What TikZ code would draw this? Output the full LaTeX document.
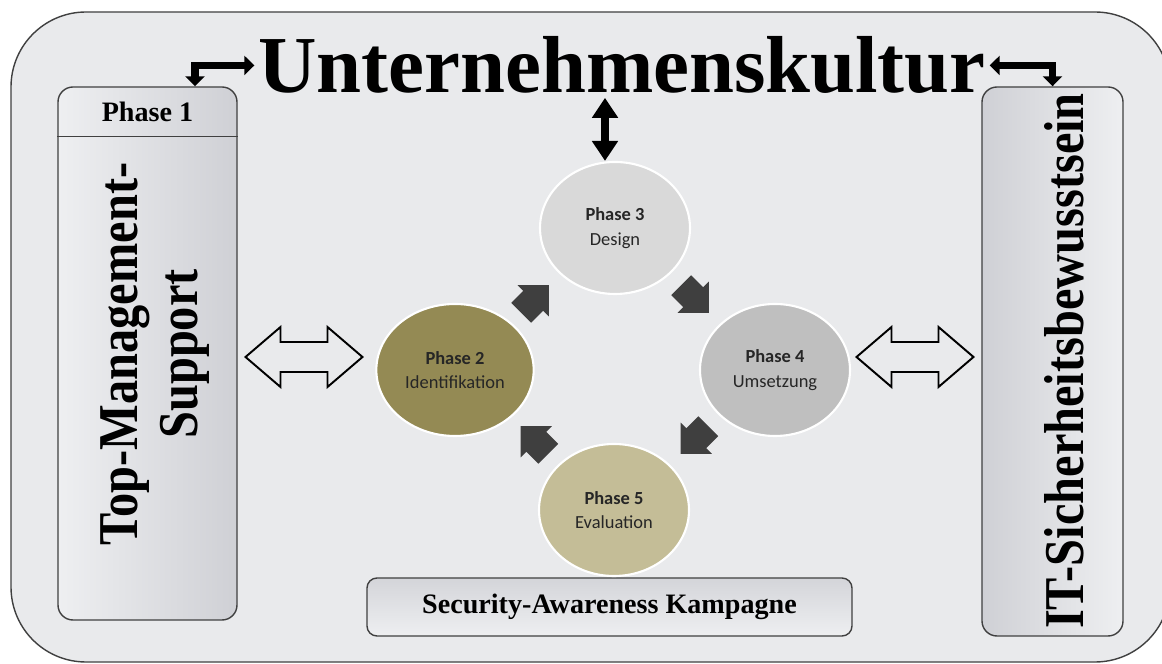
\documentclass[tikz,border=0pt]{standalone}
\usepackage{fontspec}
\setmainfont{Liberation Serif}
\newfontfamily\phasefont{Carlito}
\usetikzlibrary{arrows.meta, positioning, calc, shapes.geometric}
\definecolor{canvas}{HTML}{E9EAEC}
\definecolor{framegrey}{HTML}{404040}
\definecolor{boxlight}{HTML}{EEEFF1}
\definecolor{boxdark}{HTML}{CFD0D5}
\definecolor{phasetwo}{HTML}{948A54}
\definecolor{phasethree}{HTML}{D9D9D9}
\definecolor{phasefour}{HTML}{BFBFBF}
\definecolor{phasefive}{HTML}{C4BD97}
\definecolor{circtext}{HTML}{262626}
\definecolor{arrowgrey}{HTML}{3F3F3F}

\tikzset{
  sidebox/.style={draw=framegrey, line width=0.8pt, rounded corners=0.3cm},
  sidetext/.style={rotate=90, xscale=0.86, inner sep=0pt,
    font=\bfseries\fontsize{32}{34}\selectfont},
  phasecircle/.style={ellipse, draw=white, line width=1.2pt,
    minimum width=3.0cm, minimum height=2.64cm, align=center, text=circtext,
    font=\phasefont\fontsize{10.5}{14}\selectfont},
  linkarrow/.style={line width=4pt,
    {Triangle[length=0.2cm,width=0.38cm]}-{Triangle[length=0.2cm,width=0.38cm]}},
  cyclearrow/.pic={
    \fill[arrowgrey] (-0.39,-0.28) -- (-0.05,-0.28) -- (-0.05,-0.44) -- (0.39,0)
      -- (-0.05,0.44) -- (-0.05,0.28) -- (-0.39,0.28) -- cycle;},
  hollowarrow/.pic={
    \draw[black, line width=1.1pt, fill=canvas] (-1.17,0) -- (-0.47,0.6) -- (-0.47,0.3)
      -- (0.47,0.3) -- (0.47,0.6) -- (1.17,0) -- (0.47,-0.6) -- (0.47,-0.3)
      -- (-0.47,-0.3) -- (-0.47,-0.6) -- cycle;}
}

\begin{document}
\begin{tikzpicture}
  \useasboundingbox (0,0) rectangle (23.24,13.28);
  % outer frame
  \draw[framegrey, line width=0.8pt, fill=canvas, rounded corners=1.5cm]
    (0.22,0.04) rectangle (23.40,13.04);

  \node[inner sep=0pt, anchor=base, font=\bfseries\fontsize{46}{50}\selectfont]
    (title) at (12.44,11.42) {Unternehmenskultur};

  % side boxes
  \node[sidebox, left color=boxlight, right color=boxdark,
        minimum width=3.58cm, minimum height=10.66cm] (lbox) at (2.95,6.21) {};
  \draw[framegrey, line width=0.8pt]
    ([yshift=-1cm]lbox.north west) -- ([yshift=-1cm]lbox.north east);
  \node[font=\bfseries\fontsize{16}{18}\selectfont] (phaseone)
    at ([yshift=-0.52cm]lbox.north) {Phase 1};
  \node[sidetext, align=center] (tms) at (3.1,6.2) {Top-Management-\\Support};

  \node[sidebox, left color=boxdark, right color=boxlight,
        minimum width=2.82cm, minimum height=10.98cm] (rbox) at (21.05,6.05) {};
  \node[sidetext] (itsb) at (21.29,6.06) {IT-Sicherheitsbewusstsein};

  \node[sidebox, rounded corners=0.2cm, top color=boxdark!85!boxlight,
        bottom color=boxlight, minimum width=9.7cm, minimum height=1.16cm,
        font=\bfseries\fontsize{16}{18}\selectfont] (sak) at (12.19,1.14)
    {Security-Awareness Kampagne};

  % phases
  \foreach \id/\x/\y/\fillc/\num/\lab in {p3/12.30/8.72/phasethree/3/Design,
      p2/9.10/5.88/phasetwo/2/Identifikation, p4/15.50/5.88/phasefour/4/Umsetzung,
      p5/12.28/3.08/phasefive/5/Evaluation}{%
    \node[phasecircle, fill=\fillc] (\id) at (\x,\y) {\textbf{Phase \num}\\\lab};}

  \foreach \a/\b/\ang in {p2/p3/45, p3/p4/-45, p4/p5/-135, p5/p2/135}{%
    \pic[rotate=\ang] at ($(\a)!0.5!(\b)$) {cyclearrow};}

  \pic at (6.08,6.14) {hollowarrow};
  \pic at (18.30,6.14) {hollowarrow};

  % links to the culture
  \draw[linkarrow] ([xshift=-2pt]title.west) -| ([xshift=0.95cm]lbox.north);
  \draw[linkarrow] ([xshift=2pt]title.east) -| (rbox.north);
  \draw[line width=4.5pt,
        {Triangle[length=0.4cm,width=0.5cm]}-{Triangle[length=0.4cm,width=0.5cm]}]
    ([xshift=-0.2cm,yshift=-2pt]title.south -| p3.north) -- ([xshift=-0.2cm]p3.north);
\end{tikzpicture}
\end{document}
